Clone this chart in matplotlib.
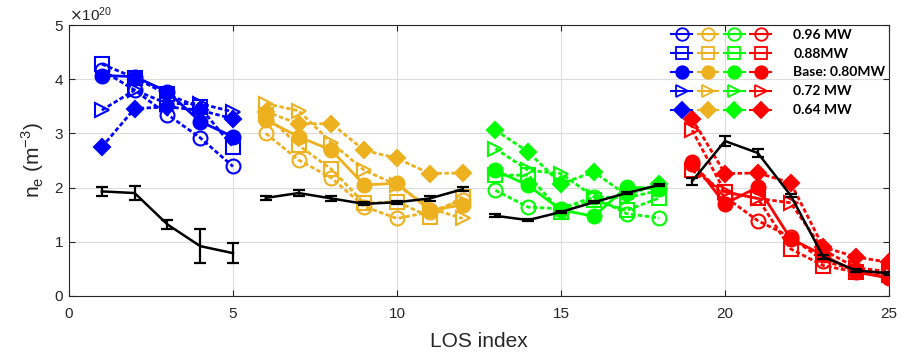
import matplotlib
matplotlib.use("Agg")
import matplotlib.pyplot as plt
from matplotlib.lines import Line2D
from matplotlib.legend_handler import HandlerTuple
import numpy as np

plt.rcParams['font.family'] = ['Liberation Sans', 'DejaVu Sans']

# LOS index ranges of the four diagnostic groups
los_groups = [list(range(1, 6)), list(range(6, 13)), list(range(13, 19)), list(range(19, 26))]
group_colors = ['#0000FF', '#EDB120', '#00FF00', '#FF0000']

power_labels = ['0.96 MW', '0.88MW', 'Base: 0.80MW', '0.72 MW', '0.64 MW']

# Electron density (units of 1e20 m^-3) per power scan, one list per group
ne_096 = [
    [4.17, 3.80, 3.35, 2.92, 2.39],
    [3.00, 2.51, 2.18, 1.65, 1.43, 1.55, 1.77],
    [1.95, 1.64, 1.61, 1.83, 1.52, 1.44],
    [2.44, 1.83, 1.39, 1.09, 0.65, 0.47, 0.41],
]
ne_088 = [
    [4.28, 4.03, 3.72, 3.48, 2.75],
    [3.34, 2.78, 2.34, 1.71, 1.74, 1.46, 1.83],
    [2.23, 2.23, 1.55, 1.77, 1.58, 1.81],
    [2.32, 1.92, 1.80, 0.87, 0.56, 0.44, 0.38],
]
ne_080 = [
    [4.07, 4.05, 3.77, 3.22, 2.94],
    [3.25, 2.94, 2.69, 2.05, 2.08, 1.58, 1.68],
    [2.32, 2.04, 1.59, 1.47, 2.01, 1.98],
    [2.48, 1.70, 2.01, 1.06, 0.75, 0.44, 0.33],
]
ne_072 = [
    [3.43, 3.80, 3.55, 3.55, 3.40],
    [3.55, 3.42, 2.83, 2.32, 2.05, 1.62, 1.43],
    [2.72, 2.32, 2.26, 1.83, 1.81, 1.95],
    [3.06, 1.92, 1.80, 1.72, 0.85, 0.52, 0.45],
]
ne_064 = [
    [2.75, 3.46, 3.49, 3.43, 3.27],
    [3.40, 3.18, 3.18, 2.69, 2.54, 2.26, 2.27],
    [3.06, 2.66, 2.07, 2.29, 1.86, 2.07],
    [3.27, 2.26, 2.27, 2.09, 0.90, 0.72, 0.62],
]

# Measured reference profile with uncertainty (units of 1e20 m^-3)
ne_meas = [
    [1.93, 1.90, 1.32, 0.92, 0.79],
    [1.81, 1.90, 1.80, 1.70, 1.73, 1.80, 1.97],
    [1.48, 1.40, 1.55, 1.73, 1.90, 2.05],
    [2.12, 2.86, 2.64, 1.86, 0.72, 0.47, 0.42],
]
ne_meas_err = [
    [0.08, 0.13, 0.08, 0.31, 0.19],
    [0.04, 0.06, 0.04, 0.03, 0.03, 0.04, 0.04],
    [0.03, 0.02, 0.02, 0.02, 0.02, 0.02],
    [0.065, 0.10, 0.07, 0.03, 0.03, 0.03, 0.03],
]

scans = [ne_096, ne_088, ne_080, ne_072, ne_064]
markers = ['o', 's', 'o', '>', 'D']
filled = [False, False, True, False, True]
dotted = (0, (1.6, 0.9))
styles = [dotted, dotted, '-', dotted, dotted]
msizes = [10, 10, 10, 10, 8.5]

fig = plt.figure(figsize=(8.99, 3.54), dpi=100)
ax = fig.add_axes([0.0768, 0.164, 0.912, 0.765])

scale = 1e20
for g, xs in enumerate(los_groups):
    c = group_colors[g]
    for s, data in enumerate(scans):
        ax.plot(xs, np.array(data[g]) * scale, linestyle=styles[s], color=c, lw=2.0,
                marker=markers[s], ms=msizes[s], mew=1.5,
                mfc=c if filled[s] else 'none', mec=c, zorder=3)
for g, xs in enumerate(los_groups):
    ax.errorbar(xs, np.array(ne_meas[g]) * scale, yerr=np.array(ne_meas_err[g]) * scale,
                color='black', lw=1.8, capsize=4, capthick=1.6, elinewidth=1.6, zorder=5)

ax.set_xlim(0, 25)
ax.set_ylim(0, 5 * scale)
ax.set_xticks([0, 5, 10, 15, 20, 25])
ax.set_yticks(np.arange(0, 6) * scale)
fmt = matplotlib.ticker.ScalarFormatter(useMathText=True)
ax.yaxis.set_major_formatter(fmt)
ax.yaxis.get_offset_text().set_fontsize(11)
ax.yaxis.get_offset_text().set_color('#262626')

ax.grid(True, color='#dcdcdc', lw=0.8)
ax.set_axisbelow(True)
ax.tick_params(direction='in', labelsize=11, colors='#262626', length=4, top=True, right=True,
               labeltop=False, labelright=False)
ax.tick_params(axis='x', pad=8)
for sp in ax.spines.values():
    sp.set_color('#262626')
    sp.set_linewidth(0.8)

ax.set_xlabel('LOS index', fontsize=15, color='#262626', labelpad=8)
ax.set_ylabel(r'n$_\mathregular{e}$ (m$^\mathregular{-3}$)', fontsize=15, color='#262626', labelpad=6)

# Legend: one row per power, one marker sample per LOS group colour
handles = []
for s in range(5):
    row = tuple(Line2D([], [], color=c, lw=1.5, marker=markers[s], ms=msizes[s] * 0.9, mew=1.3,
                       mfc=c if filled[s] else 'none', mec=c) for c in group_colors)
    handles.append(row)
leg = ax.legend(handles, power_labels, loc='upper right', bbox_to_anchor=(1.0, 1.0),
                handler_map={tuple: HandlerTuple(ndivide=None, pad=0.4)},
                handlelength=7.2, handletextpad=1.6, labelspacing=0.5,
                borderpad=0.15, borderaxespad=0.1, frameon=False,
                prop={'family': ['Lato', 'DejaVu Sans'], 'weight': 'bold', 'size': 10})

fig.savefig('out.png', dpi=100)
